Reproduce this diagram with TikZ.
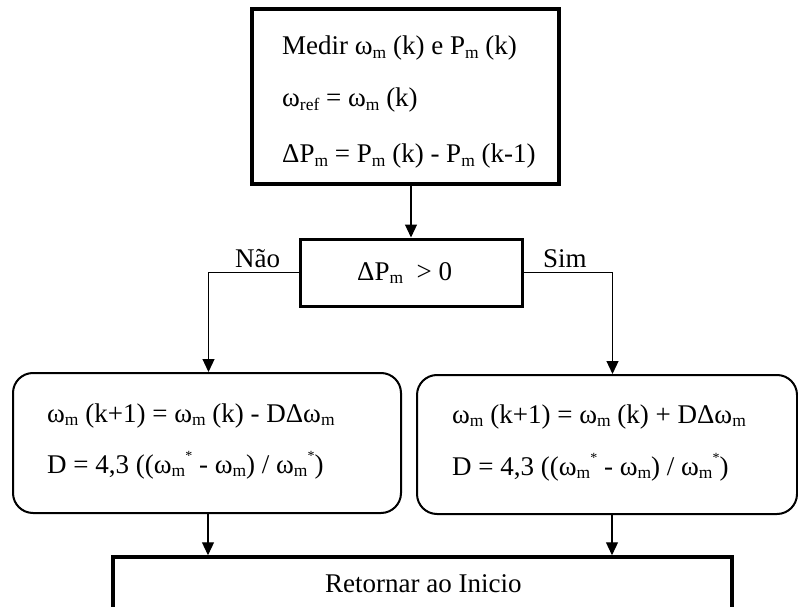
\documentclass[tikz,border=0pt]{standalone}
\usepackage{fontspec}
\setmainfont{Liberation Serif}
\usetikzlibrary{arrows.meta}
\newcommand{\sbm}[1]{\raisebox{-0.12em}{\fontsize{17.5}{17.5}\selectfont #1}}
\newcommand{\spm}[1]{\raisebox{0.45em}{\fontsize{14}{14}\selectfont #1}}
\begin{document}
\begin{tikzpicture}[x=1pt,y=-1pt,
  boxthick/.style={draw, line width=3.5pt, inner sep=0pt},
  boxdec/.style={draw, line width=3pt, inner sep=0pt},
  boxround/.style={draw, line width=2pt, rounded corners=20pt, inner sep=0pt},
  txt/.style={anchor=base west, inner sep=0pt, font=\fontsize{27}{31}\selectfont},
  arr/.style={line width=1.2pt, -{Triangle[length=13pt,width=12pt]}}]
\useasboundingbox (0,0) rectangle (798,607);
% boxes
\node[boxthick, minimum width=307pt, minimum height=175pt] (top) at (405.5,96.5) {};
\node[boxdec, minimum width=222pt, minimum height=67pt] (dec) at (411,272.5) {};
\node[boxround, minimum width=388pt, minimum height=140pt] (lbox) at (207,443) {};
\node[boxround, minimum width=380pt, minimum height=139pt] (rbox) at (607,444.5) {};
\node[boxthick, minimum width=619pt, minimum height=70pt] (ret) at (422.5,592) {};
% texts
\node[txt] (t1) at (282,55) {Medir ω\sbm{m} (k) e P\sbm{m} (k)};
\node[txt] (t2) at (282,107) {ω\sbm{ref} = ω\sbm{m} (k)};
\node[txt] (t3) at (282,163) {ΔP\sbm{m} = P\sbm{m} (k) - P\sbm{m} (k-1)};
\node[txt] (t4) at (357,280) {ΔP\sbm{m} \ > 0};
\node[txt] (nao) at (235,267) {Não};
\node[txt] (sim) at (543,267) {Sim};
\node[txt] (l1) at (47,422) {ω\sbm{m} (k+1) = ω\sbm{m} (k) - DΔω\sbm{m}};
\node[txt] (l2) at (47,473) {D = 4,3 ((ω\sbm{m}\spm{*} - ω\sbm{m}) / ω\sbm{m}\spm{*})};
\node[txt] (r1) at (452,423) {ω\sbm{m} (k+1) = ω\sbm{m} (k) + DΔω\sbm{m}};
\node[txt] (r2) at (452,475) {D = 4,3 ((ω\sbm{m}\spm{*} - ω\sbm{m}) / ω\sbm{m}\spm{*})};
\node[txt] (rt) at (325,592) {Retornar ao Inicio};
% connectors
\path (dec.west) ++(-90,0) coordinate (nl);
\path (dec.east) ++(89,0) coordinate (nr);
\draw[arr] (dec.north |- top.south) -- (dec.north);
\draw[arr] (dec.west) -- (nl) -- (nl |- lbox.north);
\draw[arr] (dec.east) -- (nr) -- (nr |- rbox.north);
\draw[arr] ([xshift=1pt]lbox.south) -- ([xshift=1pt]lbox.south |- ret.north);
\draw[arr] ([xshift=5pt]rbox.south) -- ([xshift=5pt]rbox.south |- ret.north);
\end{tikzpicture}
\end{document}
